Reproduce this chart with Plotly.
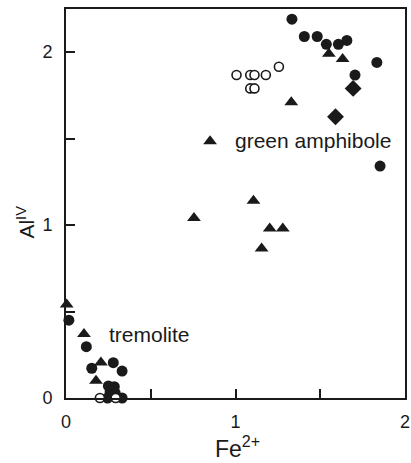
import plotly.graph_objects as go

# Data (Fe2+ vs Al IV)
filled_fe = [1.333, 1.406, 1.482, 1.536, 1.607, 1.657, 1.834, 1.705, 1.853,
             0.017, 0.120, 0.152, 0.279, 0.331, 0.250, 0.285, 0.260, 0.290, 0.245, 0.331]
filled_al = [2.19, 2.09, 2.09, 2.045, 2.045, 2.067, 1.94, 1.867, 1.341,
             0.45, 0.297, 0.172, 0.204, 0.156, 0.07, 0.065, 0.035, 0.03, 0.0, 0.0]

open_fe = [1.006, 1.087, 1.112, 1.179, 1.256, 1.087, 1.112, 0.200, 0.293]
open_al = [1.867, 1.867, 1.867, 1.867, 1.915, 1.79, 1.79, 0.0, 0.0]

tri_fe = [1.551, 1.632, 1.329, 0.850, 0.755, 1.106, 1.202, 1.279, 1.154, 0.004, 0.106, 0.206, 0.177]
tri_al = [1.99, 1.96, 1.71, 1.485, 1.04, 1.14, 0.98, 0.98, 0.865, 0.54, 0.37, 0.205, 0.10]

dia_fe = [1.694, 1.590]
dia_al = [1.79, 1.626]

tick_vals = [0, 1, 2]
tick_text = ["0", "1", "2"]

FONT = "Liberation Sans, Arial, Helvetica, sans-serif"
INK = "#1a1a1a"

W, H = 411, 463
L, R, T, B = 66, 1, 9, 65
plot_w = W - L - R
plot_h = H - T - B

fig = go.Figure()
fig.add_trace(go.Scatter(x=filled_fe, y=filled_al, mode="markers", cliponaxis=False,
                         marker=dict(symbol="circle", size=11, color=INK, line=dict(width=0))))
fig.add_trace(go.Scatter(x=open_fe, y=open_al, mode="markers", cliponaxis=False,
                         marker=dict(symbol="circle", size=9, color="white", line=dict(width=1.6, color=INK))))
fig.add_trace(go.Scatter(x=tri_fe, y=tri_al, mode="markers", cliponaxis=False,
                         marker=dict(symbol="triangle-up", size=12, color=INK, line=dict(width=0))))
fig.add_trace(go.Scatter(x=dia_fe, y=dia_al, mode="markers", cliponaxis=False,
                         marker=dict(symbol="diamond", size=13, color=INK, line=dict(width=0))))

fig.add_annotation(x=0.243, y=0.37, xref="x", yref="y", text="tremolite", showarrow=False,
                   xanchor="left", yanchor="middle", font=dict(family=FONT, size=21, color=INK))
fig.add_annotation(x=0.983, y=1.49, xref="x", yref="y", text="green amphibole", showarrow=False,
                   xanchor="left", yanchor="middle", font=dict(family=FONT, size=21, color=INK))

# axis titles as annotations placed in pixel-derived paper coords
fig.add_annotation(x=(240 - L) / plot_w, y=(398 - 447) / plot_h, xref="paper", yref="paper",
                   text="Fe<sup>2+</sup>", showarrow=False, xanchor="center", yanchor="middle",
                   font=dict(family=FONT, size=23, color=INK))
fig.add_annotation(x=(25 - L) / plot_w, y=(398 - 222) / plot_h, xref="paper", yref="paper",
                   text="Al<sup>IV</sup>", textangle=-90, showarrow=False,
                   xanchor="center", yanchor="middle", font=dict(family=FONT, size=21, color=INK))

axis_common = dict(tickvals=tick_vals, ticktext=tick_text, ticks="inside",
                   ticklen=9, tickwidth=1.5, tickcolor=INK, showgrid=False, zeroline=False,
                   showline=True, linecolor=INK, linewidth=2, mirror=True,
                   tickfont=dict(size=18, color=INK), ticklabeloverflow="allow",
                   minor=dict(dtick=0.5, tick0=0, ticks="inside", ticklen=9, tickwidth=1.5,
                              tickcolor=INK, showgrid=False))

fig.update_layout(
    width=W, height=H,
    margin=dict(l=L, r=R, t=T, b=B),
    paper_bgcolor="white", plot_bgcolor="white",
    showlegend=False,
    font=dict(family=FONT, size=18, color=INK),
    xaxis=dict(range=[0, 2.0], ticklabelstandoff=6, **axis_common),
    yaxis=dict(range=[0, 2.249], ticklabelstandoff=8, **axis_common),
)

fig.write_html("out.html")
